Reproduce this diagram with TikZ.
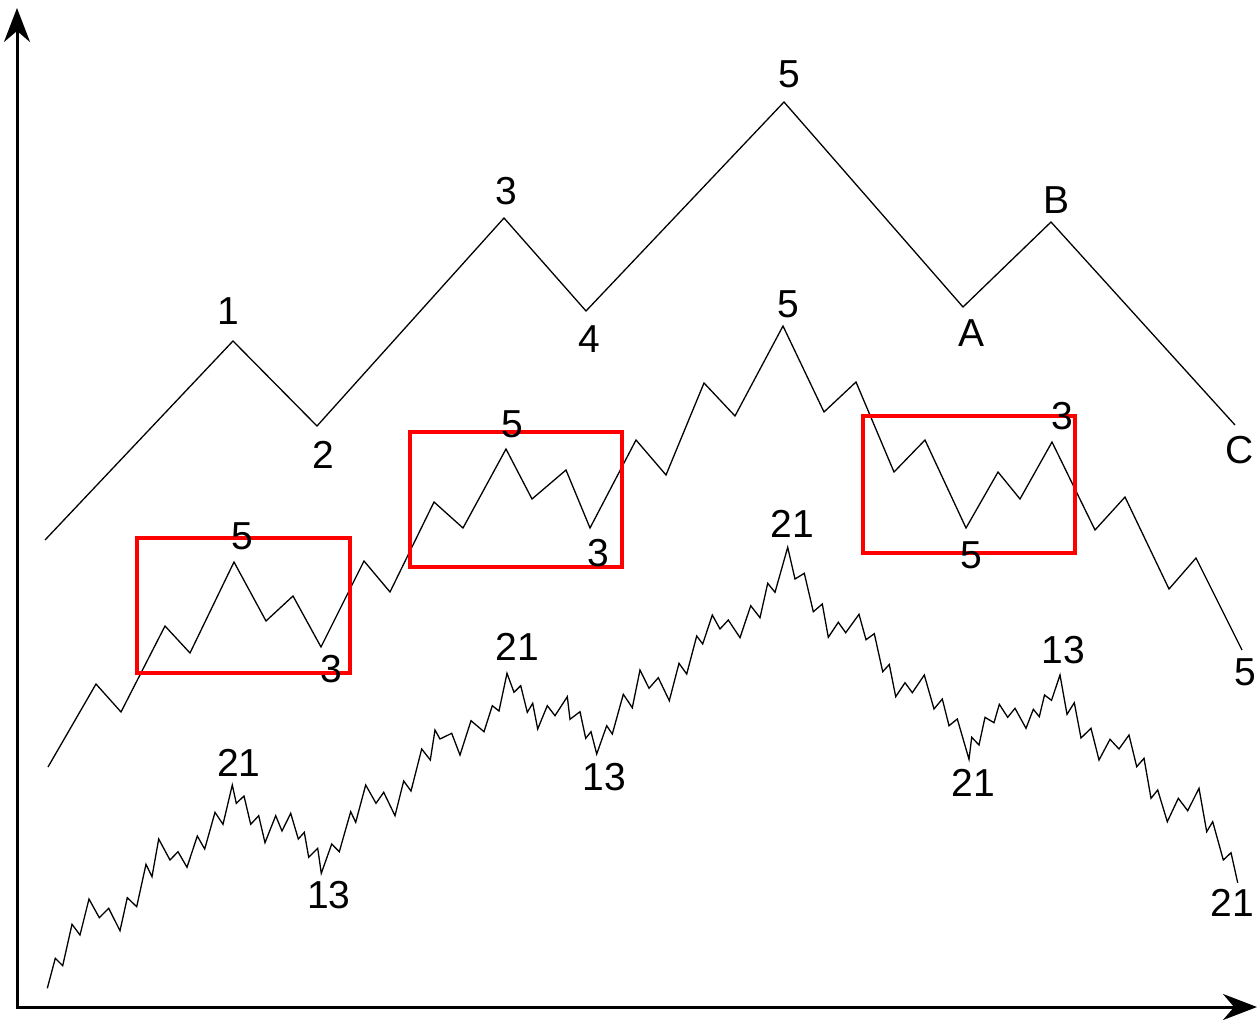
\documentclass[tikz,border=0pt]{standalone}
\usepackage{fontspec}
\setmainfont{Liberation Sans}
\usetikzlibrary{arrows.meta}
\newcommand{\lblfont}{\fontsize{19.5}{19.5}\selectfont}
\begin{document}
\begin{tikzpicture}[x=0.5pt,y=-0.5pt,
  wave/.style={line width=0.65pt, line join=miter, black},
  redbox/.style={draw=red, line width=2.1pt, line join=miter},
  axisline/.style={line width=1.5pt, line join=miter, arrows={Stealth[length=17pt,width=13pt]-Stealth[length=17pt,width=13pt]}},
  lbl/.style={font=\lblfont, inner sep=0pt, text=black}]
\useasboundingbox (0,0) rectangle (1258,1022);
% axes
\draw[axisline] (17,8) -- (17,1007) -- (1257,1007);
% level 1
\draw[wave] (45,540) -- (233,341) -- (317,426) -- (504,218) -- (586,311) -- (784,102) -- (963,307) -- (1051,222) -- (1235,425);
% level 2
\draw[wave] (48,767) -- (96,684) -- (121,712) -- (165,626) -- (190,653) -- (234,562) -- (266,621) -- (293,596) -- (321,647) -- (364,561) -- (390,592) -- (434,502) -- (463,528) -- (506,449) -- (532,499) -- (566,470) -- (590,528) -- (636,440) -- (666,475) -- (704,383) -- (735,416) -- (783,326) -- (824,412) -- (856,382) -- (894,472) -- (925,440) -- (966,528) -- (998,472) -- (1020,499) -- (1052,442) -- (1095,530) -- (1125,497) -- (1169,589) -- (1196,558) -- (1242,650);
% level 3
\draw[wave] (47.3,988.3) -- (55.3,958.3) -- (62.7,965.7) -- (72,924.3) -- (80,935) -- (89,899) -- (99.3,917.7) -- (108.7,908.3) -- (120,930.7) -- (127.3,897.7) -- (136.7,906.7) -- (146,864.3) -- (152,876.7) -- (158.7,839) -- (170,860) -- (178,851.7) -- (187,867.3) -- (197.3,836) -- (204.7,849) -- (215,812.3) -- (223,824.3) -- (232.3,785) -- (236.3,803.3) -- (244,796) -- (250.7,824.3) -- (258.7,815.7) -- (265,842.7) -- (275.7,815.7) -- (282,831) -- (290.7,813.3) -- (298.3,839) -- (304.3,832.3) -- (308.7,857.3) -- (317.7,848.3) -- (321.3,873.3) -- (331.7,844) -- (339.3,851.7) -- (350.7,811.7) -- (355.7,822.3) -- (365.7,785) -- (376,803.3) -- (383.7,792.3) -- (395,815.7) -- (403.7,781) -- (411,791) -- (421.7,749) -- (430.3,760) -- (435,730) -- (440,739) -- (451.7,733.3) -- (460,755) -- (471,720.7) -- (484,731.7) -- (492.3,705.7) -- (499,711) -- (507,673.3) -- (514,692.3) -- (520.7,685.7) -- (527.3,712.3) -- (532.7,703.3) -- (537.7,729) -- (547.3,705.7) -- (555,715.7) -- (567.3,696.7) -- (570,719.3) -- (580,711.7) -- (585.7,738.3) -- (591,731.7) -- (596.7,754) -- (606.7,725.7) -- (612.3,734) -- (623.3,694.3) -- (632.3,707.7) -- (640,670) -- (649,688.3) -- (658.3,677.7) -- (669.3,700.7) -- (679,663.3) -- (686.7,674) -- (696.7,636) -- (702.7,644) -- (712.3,615) -- (720,629) -- (728.3,620) -- (740,637.7) -- (750.7,605.7) -- (760,617.7) -- (767.7,583.3) -- (775,592.3) -- (787.7,547.3) -- (795,579) -- (804.3,573.3) -- (813.3,611.7) -- (822.3,604) -- (828.3,637.3) -- (838.3,622.3) -- (845.7,632.7) -- (859,614.3) -- (866,639.7) -- (874.3,633.7) -- (882.7,671.7) -- (889.3,664.5) -- (895.7,696.7) -- (905,682.7) -- (912.3,692.7) -- (924.3,675) -- (934,709) -- (942.3,699) -- (949,725.7) -- (957.3,719) -- (969,759.3) -- (971.7,737.3) -- (979,745) -- (985,717.3) -- (994,722.7) -- (999.3,704.3) -- (1007.7,717.3) -- (1015,708.3) -- (1026,728.3) -- (1033.3,709.3) -- (1039.3,716.7) -- (1044.5,695) -- (1051.5,700.3) -- (1060,675) -- (1067,714.3) -- (1074.3,702.7) -- (1081,738) -- (1091,728.3) -- (1099,760) -- (1110,739.3) -- (1119,749) -- (1129,735) -- (1136.7,766.7) -- (1144,758.3) -- (1151,798.3) -- (1157.7,790) -- (1167.3,821.7) -- (1178.3,798.3) -- (1187.7,810.7) -- (1199,788.3) -- (1206.7,831.7) -- (1212.7,821.7) -- (1223.3,860) -- (1231,852.7) -- (1237.7,882.7);
% red boxes
\draw[redbox] (137,538) rectangle (350,673);
\draw[redbox] (410,432) rectangle (622,567);
\draw[redbox] (863,416) rectangle (1075,553);
% labels level 1
\node[lbl] (t1) at (228,311) {1};
\node[lbl] (t2) at (323,455) {2};
\node[lbl] (t3) at (506,191) {3};
\node[lbl] (t4) at (589,339) {4};
\node[lbl] (t5) at (789,74) {5};
\node[lbl] (tA) at (971,333) {A};
\node[lbl] (tB) at (1056,200) {B};
\node[lbl] (tC) at (1240,450) {C};
% labels level 2
\node[lbl] (m1) at (242,536) {5};
\node[lbl] (m2) at (331,669) {3};
\node[lbl] (m3) at (512,424) {5};
\node[lbl] (m4) at (598,553) {3};
\node[lbl] (m5) at (788,304) {5};
\node[lbl] (m6) at (1062,416) {3};
\node[lbl] (m7) at (971,555) {5};
\node[lbl] (m8) at (1245,672) {5};
% labels level 3
\node[lbl] (b1) at (239,763) {21};
\node[lbl] (b2) at (329,895) {13};
\node[lbl] (b3) at (517,647) {21};
\node[lbl] (b4) at (604,777) {13};
\node[lbl] (b5) at (792,524) {21};
\node[lbl] (b6) at (973,783) {21};
\node[lbl] (b7) at (1063,650) {13};
\node[lbl] (b8) at (1232,903) {21};
\end{tikzpicture}
\end{document}
